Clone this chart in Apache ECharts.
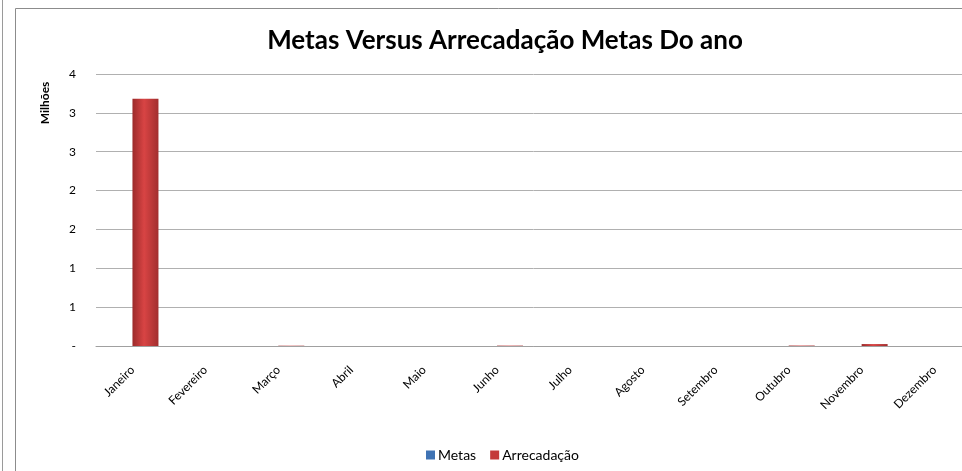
<!DOCTYPE html>
<html>
<head>
<meta charset="utf-8">
<script src="https://cdn.jsdelivr.net/npm/echarts@6/dist/echarts.min.js"></script>
<style>
  html, body { margin: 0; padding: 0; background: #fff; overflow: hidden; }
  #chart { width: 980px; height: 471px; }
</style>
</head>
<body>
<div id="chart"></div>
<script>
// dados (milhões)
var meses = ['Janeiro', 'Fevereiro', 'Março', 'Abril', 'Maio', 'Junho', 'Julho', 'Agosto', 'Setembro', 'Outubro', 'Novembro', 'Dezembro'];
var metas = [0, 0, 0, 0, 0, 0, 0, 0, 0, 0, 0, 0];
var arrecadacao = [3.18, 0, 0.004, 0, 0, 0.005, 0, 0, 0, 0.006, 0.025, 0];

var chart = echarts.init(document.getElementById('chart'));

var fonte = 'Lato, "Open Sans", sans-serif';

var option = {
  animation: false,
  title: {
    text: 'Metas Versus Arrecadação Metas Do ano',
    left: 500,
    textAlign: 'center',
    top: 23,
    textStyle: { fontFamily: fonte, fontWeight: 'bold', fontSize: 26, color: '#000' }
  },
  legend: {
    data: [
      { name: 'Metas', itemStyle: { color: '#3f73b4' } },
      { name: 'Arrecadação', itemStyle: { color: '#c43a3a' } }
    ],
    left: 421,
    top: 443,
    itemWidth: 9,
    itemHeight: 9,
    itemGap: 14,
    icon: 'rect',
    textStyle: { fontFamily: fonte, fontSize: 14, color: '#000', padding: [0, 0, 0, -2] }
  },
  grid: { left: 96, right: 9, top: 74, bottom: 125 },
  xAxis: {
    type: 'category',
    data: meses,
    axisLine: { lineStyle: { color: '#a0a0a0', width: 1 } },
    axisTick: { show: false },
    axisLabel: { rotate: 45, fontFamily: fonte, fontSize: 12, color: '#000', margin: 22, interval: 0 }
  },
  yAxis: {
    type: 'value',
    min: 0,
    max: 3.5,
    interval: 0.5,
    axisLine: { show: false },
    axisTick: { show: false },
    splitLine: { lineStyle: { color: '#b0b0b0', width: 1 } },
    axisLabel: {
      fontFamily: fonte, fontSize: 12, color: '#000', margin: 20,
      formatter: function (v) { return v === 0 ? '-' : String(Math.round(v)); }
    }
  },
  series: [
    {
      name: 'Metas',
      type: 'bar',
      data: metas,
      barWidth: 26,
      barGap: '0%',
      itemStyle: {
        color: new echarts.graphic.LinearGradient(0, 0, 1, 0, [
          { offset: 0, color: '#2c5d96' },
          { offset: 0.5, color: '#5b8fd0' },
          { offset: 1, color: '#2f6099' }
        ])
      }
    },
    {
      name: 'Arrecadação',
      type: 'bar',
      data: arrecadacao,
      barWidth: 26,
      itemStyle: {
        color: new echarts.graphic.LinearGradient(0, 0, 1, 0, [
          { offset: 0, color: '#9c2a2a' },
          { offset: 0.45, color: '#d84444' },
          { offset: 1, color: '#a22e2e' }
        ])
      }
    }
  ],
  graphic: [
    {
      type: 'text',
      x: 45,
      y: 103,
      rotation: Math.PI / 2,
      style: {
        text: 'Milhões',
        fontFamily: fonte, fontWeight: 'bold', fontSize: 12, fill: '#000',
        textAlign: 'center', textVerticalAlign: 'middle'
      }
    },
    {
      type: 'rect',
      shape: { x: 15.5, y: 8.5, width: 990, height: 480 },
      style: { fill: null, stroke: '#8c8c8c', lineWidth: 1 }
    },
    {
      type: 'line',
      shape: { x1: 2.5, y1: 0, x2: 2.5, y2: 471 },
      style: { stroke: '#9a9a9a', lineWidth: 1 }
    }
  ]
};

chart.setOption(option);
</script>
</body>
</html>
